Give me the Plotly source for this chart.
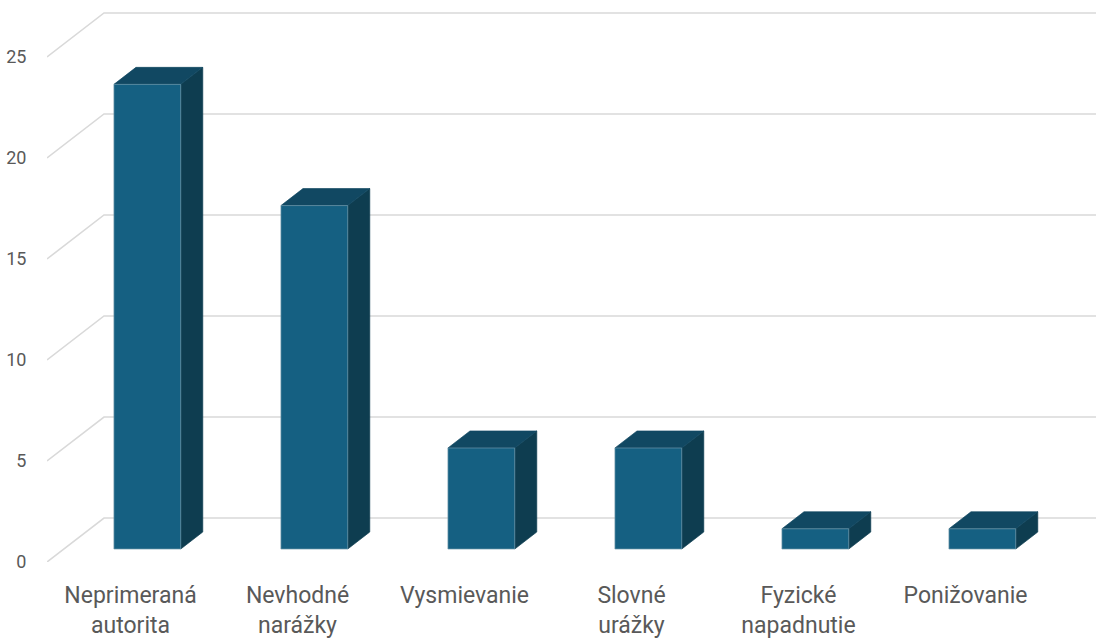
import plotly.graph_objects as go

# Data
categories = ["Neprimeraná<br>autorita", "Nevhodné<br>narážky", "Vysmievanie",
              "Slovné<br>urážky", "Fyzické<br>napadnutie", "Ponižovanie"]
values = [23, 17, 5, 5, 1, 1]
y_ticks = [0, 5, 10, 15, 20, 25]

# Pseudo-3D projection: depth d in [0, 1] shifts points right and up
DEPTH_X = 0.3413      # category units for the full floor depth
DEPTH_Y = 2.178       # value units for the full floor depth
BAR_FRONT = 0.2955    # depth of bar front face
BAR_BACK = 0.682      # depth of bar back face
BAR_L, BAR_R = 0.3, 0.7

X_MAX = 6.2814
Y_MAX = 27.82

FRONT_COL = "#156082"
TOP_COL = "#114862"
SIDE_COL = "#0e3d50"
GRID_COL = "#d9d9d9"


def proj(x, y, d):
    return x + d * DEPTH_X, y + d * DEPTH_Y


fig = go.Figure()

# Gridlines: diagonal on the side wall plus horizontal line on the back wall
gx, gy = [], []
for v in y_ticks:
    x0, y0 = proj(0, v, 0)
    x1, y1 = proj(0, v, 1)
    gx += [x0, x1, X_MAX + 0.2, None]
    gy += [y0, y1, y1, None]
fig.add_trace(go.Scatter(x=gx, y=gy, mode="lines",
                         line=dict(color=GRID_COL, width=1.6),
                         hoverinfo="skip", showlegend=False))

# Bars built from front, top and side faces
fx, fy, tx, ty, sx, sy = [], [], [], [], [], []
for i, v in enumerate(values):
    xl, xr = i + BAR_L, i + BAR_R
    a = proj(xl, 0, BAR_FRONT); b = proj(xr, 0, BAR_FRONT)
    c = proj(xr, v, BAR_FRONT); d = proj(xl, v, BAR_FRONT)
    e = proj(xl, v, BAR_BACK); f = proj(xr, v, BAR_BACK)
    g = proj(xr, 0, BAR_BACK)
    for pts, X, Y in (([a, b, c, d], fx, fy), ([d, c, f, e], tx, ty),
                      ([b, g, f, c], sx, sy)):
        X += [p[0] for p in pts] + [pts[0][0], None]
        Y += [p[1] for p in pts] + [pts[0][1], None]

for X, Y, col, edge in ((sx, sy, SIDE_COL, SIDE_COL), (tx, ty, TOP_COL, TOP_COL),
                        (fx, fy, FRONT_COL, "#6f98ab")):
    fig.add_trace(go.Scatter(x=X, y=Y, mode="lines", fill="toself",
                             fillcolor=col, line=dict(color=edge, width=0.7),
                             hoverinfo="skip", showlegend=False))

fig.update_layout(
    width=1096, height=640,
    margin=dict(l=47, r=0, t=0, b=78),
    paper_bgcolor="white", plot_bgcolor="white",
    font=dict(family="Roboto", color="#595959"),
    xaxis=dict(range=[0, X_MAX], tickmode="array",
               tickvals=[i + 0.5 for i in range(len(categories))],
               ticktext=categories, showgrid=False, zeroline=False,
               showline=False, ticks="outside", ticklen=12,
               tickcolor="rgba(0,0,0,0)", tickfont=dict(size=23),
               automargin=False, fixedrange=True),
    yaxis=dict(range=[0, Y_MAX], tickmode="array", tickvals=y_ticks,
               ticktext=[str(t) for t in y_ticks], showgrid=False,
               zeroline=False, showline=False, ticks="outside", ticklen=16,
               tickcolor="rgba(0,0,0,0)", tickfont=dict(size=18),
               automargin=False, fixedrange=True),
)

fig.write_html("out.html")
